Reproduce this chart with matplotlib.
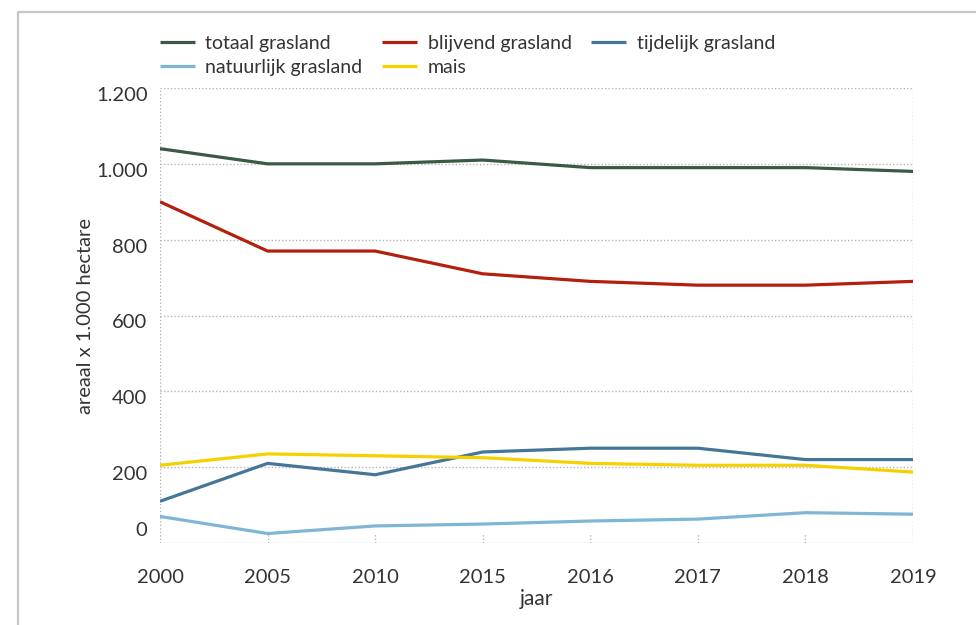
import matplotlib
matplotlib.use("Agg")
import matplotlib.pyplot as plt
import matplotlib.transforms as mtransforms
from matplotlib.lines import Line2D

years = ["2000", "2005", "2010", "2015", "2016", "2017", "2018", "2019"]
totaal = [1040, 1000, 1000, 1010, 990, 990, 990, 980]
blijvend = [900, 770, 770, 710, 690, 680, 680, 690]
tijdelijk = [110, 210, 180, 240, 250, 250, 220, 220]
natuurlijk = [70, 25, 45, 50, 58, 63, 80, 76]
mais = [205, 235, 230, 225, 210, 205, 205, 187]
yticks = [0, 200, 400, 600, 800, 1000, 1200]
ylabels = ["0", "200", "400", "600", "800", "1.000", "1.200"]

plt.rcParams['font.family'] = ['Lato', 'DejaVu Sans']
txt = '#333333'

fig = plt.figure(figsize=(9.76, 6.25), dpi=100)
ax = fig.add_axes([160/976, 1-543/625, (913-160)/976, (543-88)/625])

x = list(range(len(years)))
series = [
    ("totaal grasland", totaal, '#3a5a46'),
    ("blijvend grasland", blijvend, '#b3200e'),
    ("tijdelijk grasland", tijdelijk, '#467696'),
    ("natuurlijk grasland", natuurlijk, '#80b6d4'),
    ("mais", mais, '#f6d100'),
]
handles = {}
for name, vals, col in series:
    h, = ax.plot(x, vals, color=col, lw=2.3, solid_capstyle='butt', zorder=3)
    handles[name] = h

ax.set_xlim(0, len(years)-1)
ax.set_ylim(0, 1200)
for s in ax.spines.values():
    s.set_visible(False)
for yv in yticks:
    ax.axhline(yv, color='#b5b5b5', lw=1, ls=(0, (1, 1.5)), zorder=1)
ax.axvline(0, color='#b5b5b5', lw=1, ls=(0, (1, 1.5)), zorder=1)
ax.axvline(len(years)-1, color='#b5b5b5', lw=1, ls=(0, (1, 1.5)), zorder=1)
ax.vlines(x[1:-1], 0, 27, color='#b5b5b5', lw=1, ls=(0, (1, 1.5)), zorder=1)

ax.set_xticks(x)
ax.set_xticklabels(years, fontsize=14.5, color=txt)
ax.set_yticks(yticks)
ax.set_yticklabels(ylabels, fontsize=14.5, color=txt)
ax.tick_params(axis='x', length=0, pad=19)
ax.tick_params(axis='y', length=0, pad=9)
for lab in ax.get_yticklabels():
    dy = 14/100 if lab.get_text() == "0" else -6/100
    lab.set_transform(lab.get_transform() + mtransforms.ScaledTranslation(0, dy, fig.dpi_scale_trans))

ax.set_xlabel("jaar", fontsize=15, color=txt, labelpad=2)
ax.set_ylabel("areaal x 1.000 hectare", fontsize=14.5, color=txt, labelpad=1)

order = ["totaal grasland", "natuurlijk grasland", "blijvend grasland", "mais", "tijdelijk grasland"]
leg = fig.legend([handles[n] for n in order], order, loc='upper left',
                 bbox_to_anchor=(152/976, 1-27/625), ncol=3, frameon=False,
                 fontsize=14, handlelength=1.8, handletextpad=0.55, columnspacing=1.0,
                 labelspacing=0.35, borderaxespad=0)
for t in leg.get_texts():
    t.set_color(txt)

fig.add_artist(Line2D([18/976, 18/976, 1], [0, 1-12/625, 1-12/625], transform=fig.transFigure,
                      color='#c6c6c6', lw=1.6))

fig.savefig("out.png", dpi=100)
